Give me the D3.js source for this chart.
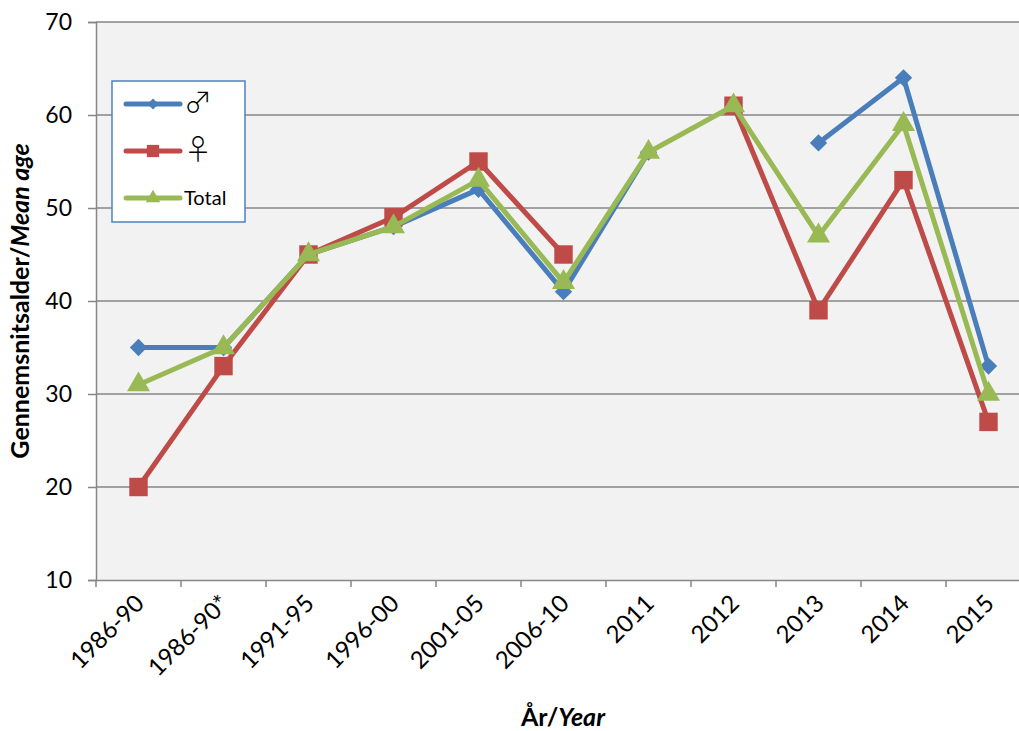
<!DOCTYPE html>
<html>
<head>
<meta charset="utf-8">
<script src="https://cdn.jsdelivr.net/npm/d3@7"></script>
<style>
  body { margin: 0; background: #fff; }
  svg text { font-family: Lato, "Open Sans", sans-serif; fill: #000; }
</style>
</head>
<body>
<svg id="chart" width="1019" height="731"></svg>
<script>
// data
const categories = ["1986-90", "1986-90*", "1991-95", "1996-00", "2001-05", "2006-10", "2011", "2012", "2013", "2014", "2015"]
const male   = [35, 35, 45, 48, 52, 41, 56, null, 57, 64, 33]
const female = [20, 33, 45, 49, 55, 45, null, 61, 39, 53, 27]
const total  = [31, 35, 45, 48, 53, 42, 56, 61, 47, 59, 30]
const yTicks = [10, 20, 30, 40, 50, 60, 70]

const svg = d3.select("#chart")
const plotLeft = 96, plotRight = 1031, plotTop = 22, plotBottom = 580

// scales
const x = d3.scaleBand().domain(categories).range([plotLeft, plotRight])
const y = d3.scaleLinear().domain([10, 70]).range([plotBottom, plotTop])

// plot background
svg.append("rect")
  .attr("x", plotLeft).attr("y", plotTop)
  .attr("width", plotRight - plotLeft).attr("height", plotBottom - plotTop)
  .attr("fill", "#f2f2f2")

// gridlines
svg.append("g").selectAll("line").data(yTicks.slice(1)).join("line")
  .attr("x1", plotLeft).attr("x2", plotRight)
  .attr("y1", d => y(d)).attr("y2", d => y(d))
  .attr("stroke", "#868686").attr("stroke-width", 1.5)

// y axis
const yAxis = svg.append("g")
  .attr("transform", `translate(${plotLeft},0)`)
  .call(d3.axisLeft(y).tickValues(yTicks).tickSize(8).tickPadding(16))
yAxis.select(".domain").attr("stroke", "#868686").attr("stroke-width", 1.5)
yAxis.selectAll(".tick line").attr("stroke", "#868686").attr("stroke-width", 1.5)
yAxis.selectAll("text").attr("font-size", 23)

// x axis, ticks between categories
const xAxis = svg.append("g")
  .attr("transform", `translate(0,${plotBottom})`)
  .call(d3.axisBottom(x).tickSize(0).tickPadding(0))
xAxis.select(".domain").attr("stroke", "#868686").attr("stroke-width", 1.5)
xAxis.selectAll(".tick text")
  .attr("font-size", 24)
  .attr("text-anchor", "end")
  .attr("dy", null)
  .attr("transform", "translate(7,25) rotate(-45)")

svg.append("g").selectAll("line").data(categories).join("line")
  .attr("x1", d => x(d)).attr("x2", d => x(d))
  .attr("y1", plotBottom).attr("y2", plotBottom + 7)
  .attr("stroke", "#868686").attr("stroke-width", 1.5)

// axis titles
const yTitle = svg.append("text")
  .attr("transform", "translate(29,301) rotate(-90)")
  .attr("text-anchor", "middle")
  .attr("font-size", 25).attr("font-weight", "bold")
yTitle.append("tspan").text("Gennemsnitsalder/")
yTitle.append("tspan").attr("font-style", "italic").text("Mean age")

const xTitle = svg.append("text")
  .attr("x", 563).attr("y", 726)
  .attr("text-anchor", "middle")
  .attr("font-size", 25).attr("font-weight", "bold")
xTitle.append("tspan").text("År/")
xTitle.append("tspan").attr("font-style", "italic").text("Year")

// series (diamond = square turned 45 degrees)
const cx = d => x(d) + x.bandwidth() / 2
const series = [
  { name: "♂", values: male, color: "#4a7ebb", symbol: d3.symbolSquare, size: 150, rot: 45, legendSize: 60 },
  { name: "♀", values: female, color: "#be4b48", symbol: d3.symbolSquare, size: 340, rot: 0, legendSize: 150 },
  { name: "Total", values: total, color: "#98b954", symbol: d3.symbolTriangle, size: 230, rot: 0, legendSize: 90 }
]

const line = d3.line()
  .defined(d => d[1] != null)
  .x(d => cx(d[0]))
  .y(d => y(d[1]))

series.forEach(s => {
  const pts = categories.map((c, i) => [c, s.values[i]])
  svg.append("path")
    .datum(pts)
    .attr("d", line)
    .attr("fill", "none")
    .attr("stroke", s.color)
    .attr("stroke-width", 5)
    .attr("stroke-linejoin", "round")
  svg.append("g").selectAll("path").data(pts.filter(d => d[1] != null)).join("path")
    .attr("transform", d => `translate(${cx(d[0])},${y(d[1])}) rotate(${s.rot})`)
    .attr("d", d3.symbol().type(s.symbol).size(s.size))
    .attr("fill", s.color)
})

// legend
const legend = svg.append("g")
legend.append("rect")
  .attr("x", 112).attr("y", 81).attr("width", 133).attr("height", 141)
  .attr("fill", "#fff").attr("stroke", "#4f81bd").attr("stroke-width", 1.5)

const legendY = d3.scalePoint().domain(series.map(s => s.name)).range([104, 198])
series.forEach(s => {
  const ly = legendY(s.name)
  legend.append("line")
    .attr("x1", 126).attr("x2", 180).attr("y1", ly).attr("y2", ly)
    .attr("stroke", s.color).attr("stroke-width", 5).attr("stroke-linecap", "round")
  legend.append("path")
    .attr("transform", `translate(153,${ly}) rotate(${s.rot})`)
    .attr("d", d3.symbol().type(s.symbol).size(s.legendSize))
    .attr("fill", s.color)
  const isTotal = s.name === "Total"
  legend.append("text")
    .attr("x", 184).attr("y", isTotal ? ly + 7 : ly + 9)
    .attr("font-size", isTotal ? 20 : 28)
    .style("font-family", isTotal ? null : "'Noto Sans CJK JP'")
    .style("font-weight", isTotal ? "normal" : "300")
    .text(s.name)
})
</script>
</body>
</html>
